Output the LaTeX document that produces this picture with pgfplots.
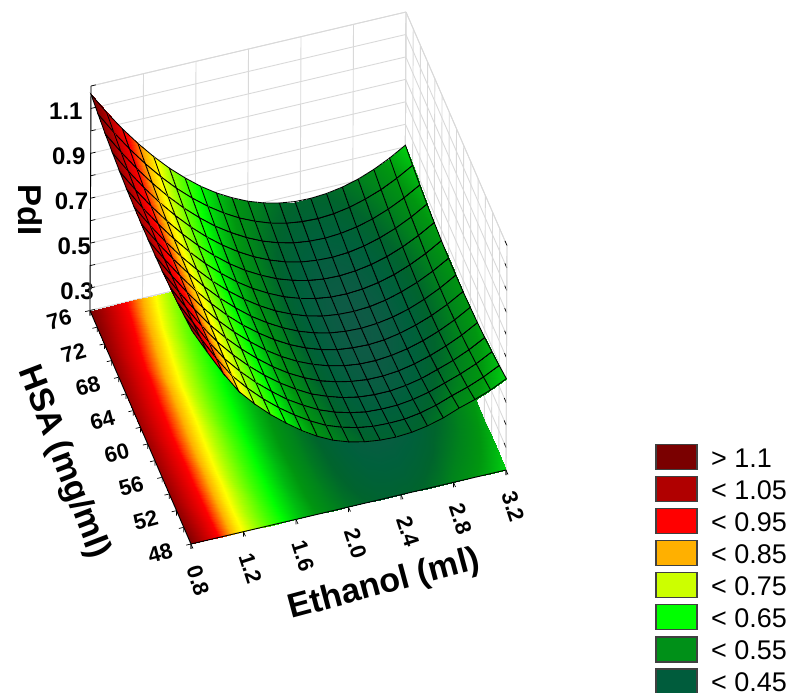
\documentclass[border=0pt]{standalone}
\usepackage{fontspec}
\setmainfont{Liberation Sans}
\usepackage{pgfplots}
\usepackage{pgfplotstable}
\pgfplotsset{compat=1.18}
\definecolor{c1}{RGB}{122,0,0}
\definecolor{c2}{RGB}{176,0,0}
\definecolor{c3}{RGB}{255,0,0}
\definecolor{c4}{RGB}{255,176,0}
\definecolor{c5}{RGB}{204,255,0}
\definecolor{c6}{RGB}{0,255,0}
\definecolor{c7}{RGB}{0,144,24}
\definecolor{c8}{RGB}{0,92,60}
\newcommand\swatch[1]{\addlegendimage{legend image code/.code={\draw[line width=1.5pt,draw=black!75,fill=#1] (0pt,-7.5pt) rectangle (41pt,17.5pt);\path (55pt,0pt);}}}
\pgfplotstableread[row sep=\\]{
x y z\\
0.80 76 1.163\\0.92 76 1.066\\1.04 76 0.977\\1.16 76 0.895\\1.28 76 0.820\\1.40 76 0.752\\1.52 76 0.692\\1.64 76 0.638\\1.76 76 0.592\\1.88 76 0.554\\2.00 76 0.522\\2.12 76 0.498\\2.24 76 0.481\\2.36 76 0.471\\2.48 76 0.469\\2.60 76 0.474\\2.72 76 0.486\\2.84 76 0.505\\2.96 76 0.532\\3.08 76 0.566\\3.20 76 0.607\\
0.80 74 1.148\\0.92 74 1.051\\1.04 74 0.961\\1.16 74 0.879\\1.28 74 0.804\\1.40 74 0.736\\1.52 74 0.676\\1.64 74 0.623\\1.76 74 0.577\\1.88 74 0.538\\2.00 74 0.507\\2.12 74 0.482\\2.24 74 0.465\\2.36 74 0.456\\2.48 74 0.453\\2.60 74 0.458\\2.72 74 0.470\\2.84 74 0.490\\2.96 74 0.516\\3.08 74 0.550\\3.20 74 0.591\\
0.80 72 1.134\\0.92 72 1.038\\1.04 72 0.948\\1.16 72 0.866\\1.28 72 0.791\\1.40 72 0.723\\1.52 72 0.663\\1.64 72 0.609\\1.76 72 0.564\\1.88 72 0.525\\2.00 72 0.493\\2.12 72 0.469\\2.24 72 0.452\\2.36 72 0.443\\2.48 72 0.440\\2.60 72 0.445\\2.72 72 0.457\\2.84 72 0.476\\2.96 72 0.503\\3.08 72 0.537\\3.20 72 0.578\\
0.80 70 1.124\\0.92 70 1.027\\1.04 70 0.937\\1.16 70 0.855\\1.28 70 0.780\\1.40 70 0.712\\1.52 70 0.652\\1.64 70 0.599\\1.76 70 0.553\\1.88 70 0.514\\2.00 70 0.483\\2.12 70 0.458\\2.24 70 0.441\\2.36 70 0.432\\2.48 70 0.429\\2.60 70 0.434\\2.72 70 0.446\\2.84 70 0.466\\2.96 70 0.492\\3.08 70 0.526\\3.20 70 0.567\\
0.80 68 1.115\\0.92 68 1.018\\1.04 68 0.929\\1.16 68 0.847\\1.28 68 0.772\\1.40 68 0.704\\1.52 68 0.644\\1.64 68 0.590\\1.76 68 0.544\\1.88 68 0.506\\2.00 68 0.474\\2.12 68 0.450\\2.24 68 0.433\\2.36 68 0.423\\2.48 68 0.421\\2.60 68 0.426\\2.72 68 0.438\\2.84 68 0.457\\2.96 68 0.484\\3.08 68 0.518\\3.20 68 0.559\\
0.80 66 1.109\\0.92 66 1.012\\1.04 66 0.923\\1.16 66 0.841\\1.28 66 0.766\\1.40 66 0.698\\1.52 66 0.638\\1.64 66 0.584\\1.76 66 0.538\\1.88 66 0.500\\2.00 66 0.468\\2.12 66 0.444\\2.24 66 0.427\\2.36 66 0.417\\2.48 66 0.415\\2.60 66 0.420\\2.72 66 0.432\\2.84 66 0.451\\2.96 66 0.478\\3.08 66 0.512\\3.20 66 0.553\\
0.80 64 1.106\\0.92 64 1.009\\1.04 64 0.919\\1.16 64 0.837\\1.28 64 0.762\\1.40 64 0.694\\1.52 64 0.634\\1.64 64 0.581\\1.76 64 0.535\\1.88 64 0.496\\2.00 64 0.465\\2.12 64 0.440\\2.24 64 0.423\\2.36 64 0.414\\2.48 64 0.411\\2.60 64 0.416\\2.72 64 0.428\\2.84 64 0.448\\2.96 64 0.474\\3.08 64 0.508\\3.20 64 0.549\\
0.80 62 1.105\\0.92 62 1.008\\1.04 62 0.918\\1.16 62 0.836\\1.28 62 0.761\\1.40 62 0.693\\1.52 62 0.633\\1.64 62 0.579\\1.76 62 0.534\\1.88 62 0.495\\2.00 62 0.463\\2.12 62 0.439\\2.24 62 0.422\\2.36 62 0.413\\2.48 62 0.410\\2.60 62 0.415\\2.72 62 0.427\\2.84 62 0.446\\2.96 62 0.473\\3.08 62 0.507\\3.20 62 0.548\\
0.80 60 1.105\\0.92 60 1.007\\1.04 60 0.916\\1.16 60 0.834\\1.28 60 0.759\\1.40 60 0.691\\1.52 60 0.631\\1.64 60 0.579\\1.76 60 0.533\\1.88 60 0.494\\2.00 60 0.463\\2.12 60 0.439\\2.24 60 0.422\\2.36 60 0.414\\2.48 60 0.411\\2.60 60 0.416\\2.72 60 0.429\\2.84 60 0.449\\2.96 60 0.475\\3.08 60 0.508\\3.20 60 0.549\\
0.80 58 1.107\\0.92 58 1.008\\1.04 58 0.916\\1.16 58 0.832\\1.28 58 0.757\\1.40 58 0.690\\1.52 58 0.631\\1.64 58 0.577\\1.76 58 0.532\\1.88 58 0.494\\2.00 58 0.464\\2.12 58 0.441\\2.24 58 0.425\\2.36 58 0.416\\2.48 58 0.415\\2.60 58 0.421\\2.72 58 0.434\\2.84 58 0.454\\2.96 58 0.480\\3.08 58 0.513\\3.20 58 0.553\\
0.80 56 1.111\\0.92 56 1.010\\1.04 56 0.915\\1.16 56 0.829\\1.28 56 0.755\\1.40 56 0.689\\1.52 56 0.630\\1.64 56 0.577\\1.76 56 0.532\\1.88 56 0.495\\2.00 56 0.465\\2.12 56 0.444\\2.24 56 0.429\\2.36 56 0.421\\2.48 56 0.420\\2.60 56 0.427\\2.72 56 0.441\\2.84 56 0.462\\2.96 56 0.488\\3.08 56 0.520\\3.20 56 0.559\\
0.80 54 1.119\\0.92 54 1.014\\1.04 54 0.916\\1.16 54 0.828\\1.28 54 0.754\\1.40 54 0.688\\1.52 54 0.630\\1.64 54 0.579\\1.76 54 0.535\\1.88 54 0.497\\2.00 54 0.470\\2.12 54 0.448\\2.24 54 0.434\\2.36 54 0.428\\2.48 54 0.428\\2.60 54 0.436\\2.72 54 0.451\\2.84 54 0.474\\2.96 54 0.498\\3.08 54 0.529\\3.20 54 0.567\\
0.80 52 1.126\\0.92 52 1.020\\1.04 52 0.918\\1.16 52 0.827\\1.28 52 0.754\\1.40 52 0.689\\1.52 52 0.632\\1.64 52 0.580\\1.76 52 0.538\\1.88 52 0.501\\2.00 52 0.474\\2.12 52 0.455\\2.24 52 0.442\\2.36 52 0.438\\2.48 52 0.439\\2.60 52 0.448\\2.72 52 0.464\\2.84 52 0.488\\2.96 52 0.512\\3.08 52 0.541\\3.20 52 0.578\\
0.80 50 1.138\\0.92 50 1.027\\1.04 50 0.921\\1.16 50 0.827\\1.28 50 0.754\\1.40 50 0.690\\1.52 50 0.634\\1.64 50 0.585\\1.76 50 0.542\\1.88 50 0.506\\2.00 50 0.481\\2.12 50 0.463\\2.24 50 0.452\\2.36 50 0.449\\2.48 50 0.451\\2.60 50 0.462\\2.72 50 0.480\\2.84 50 0.506\\2.96 50 0.528\\3.08 50 0.556\\3.20 50 0.591\\
0.80 48 1.150\\0.92 48 1.036\\1.04 48 0.927\\1.16 48 0.830\\1.28 48 0.758\\1.40 48 0.695\\1.52 48 0.640\\1.64 48 0.590\\1.76 48 0.548\\1.88 48 0.514\\2.00 48 0.490\\2.12 48 0.474\\2.24 48 0.465\\2.36 48 0.462\\2.48 48 0.467\\2.60 48 0.479\\2.72 48 0.498\\2.84 48 0.525\\2.96 48 0.547\\3.08 48 0.573\\3.20 48 0.607\\
}\surface
\begin{document}
\begin{tikzpicture}
\useasboundingbox (0pt,0pt) rectangle (788pt,693pt);
\begin{axis}[
  at={(90pt,149pt)},anchor=south west,
  x={(131.25pt,30.83pt)},y={(-3.607pt,8.339pt)},z={(1pt,224.5pt)},
  xmin=0.8,xmax=3.2,ymin=48,ymax=76,zmin=0.2,zmax=1.2,
  clip=false,
  colormap={pdi}{rgb255(0cm)=(15,90,70) rgb255(3cm)=(0,96,60) rgb255(6cm)=(0,100,45) rgb255(10cm)=(0,130,28) rgb255(14cm)=(0,150,16) rgb255(18cm)=(0,190,16) rgb255(21cm)=(0,225,8) rgb255(23.5cm)=(0,255,0) rgb255(31cm)=(110,255,0) rgb255(37cm)=(204,255,0) rgb255(40cm)=(255,255,0) rgb255(46cm)=(255,176,0) rgb255(54cm)=(255,0,0) rgb255(64cm)=(192,0,0) rgb255(75cm)=(122,0,0)},
  point meta min=0.41,point meta max=1.16,
  xtick={0.8,1.2,1.6,2.0,2.4,2.8,3.2},
  xticklabels={0.8,1.2,1.6,2.0,2.4,2.8,3.2},
  ytick={48,50,52,54,56,58,60,62,64,66,68,70,72,74,76},
  yticklabels={48,,52,,56,,60,,64,,68,,72,,76},
  ztick={0.2,0.3,0.4,0.5,0.6,0.7,0.8,0.9,1.0,1.1,1.2},
  zticklabels={,\hspace{24pt}0.3,,\hspace{18pt}0.5,,\hspace{12pt}0.7,,\hspace{6pt}0.9,,1.1,},
  xtick pos=lower,ytick pos=lower,ztick pos=left,
  xtick align=outside,ytick align=outside,
  grid=major,
  grid style={draw=gray!30,line width=0.9pt},
  axis line style={draw=gray!30,line width=0.9pt},
  major tick length=5pt,
  tick style={black,line width=0.7pt},
  xticklabel style={font=\bfseries\fontsize{22}{22}\selectfont,anchor=center,xshift=5pt,yshift=-32pt,rotate=-72},
  yticklabel style={font=\bfseries\fontsize{22}{22}\selectfont,anchor=center,xshift=-26pt,yshift=-8pt,rotate=15},
  zticklabel style={font=\bfseries\fontsize{24}{24}\selectfont,anchor=center,xshift=-25pt,yshift=-3pt},
  xlabel={Ethanol (ml)},ylabel={HSA (mg/ml)},zlabel={PdI},
  every axis x label/.style={at={(axis cs:2.0,48,0.2)},anchor=center,xshift=35.5pt,yshift=-78pt,rotate=15,font=\bfseries\fontsize{34}{34}\selectfont},
  every axis y label/.style={at={(axis cs:0.8,62,0.2)},anchor=center,xshift=-77.5pt,yshift=-35pt,rotate=-69,font=\bfseries\fontsize{34}{34}\selectfont},
  every axis z label/.style={at={(axis cs:0.8,76,0.7)},anchor=center,xshift=-60.5pt,yshift=-12pt,rotate=-90,font=\bfseries\fontsize{33}{33}\selectfont},
  legend style={at={(axis cs:3.2,48,0.2)},anchor=south west,xshift=146pt,yshift=-231pt,draw=none,fill=none,
    font=\fontsize{27}{27}\selectfont,row sep=1.3pt,
    nodes={inner sep=0pt,text height=18pt,text depth=7pt}},
  legend cell align=left,
]
\addplot3[surf,shader=interp,mesh/rows=15,mesh/cols=21,point meta=\thisrow{z},forget plot] table[x=x,y=y,z expr=0.2] {\surface};
\addplot3[black,line width=0.9pt,forget plot] coordinates {(0.8,76,1.2) (0.8,76,0.2) (0.8,48,0.2) (3.2,48,0.2)};
\addplot3[surf,shader=faceted interp,faceted color=black,line width=0.85pt,mesh/rows=15,mesh/cols=21,point meta=z,forget plot] table[x=x,y=y,z=z] {\surface};
\swatch{c1}\addlegendentry{> 1.1}
\swatch{c2}\addlegendentry{< 1.05}
\swatch{c3}\addlegendentry{< 0.95}
\swatch{c4}\addlegendentry{< 0.85}
\swatch{c5}\addlegendentry{< 0.75}
\swatch{c6}\addlegendentry{< 0.65}
\swatch{c7}\addlegendentry{< 0.55}
\swatch{c8}\addlegendentry{< 0.45}
\end{axis}
\end{tikzpicture}
\end{document}
